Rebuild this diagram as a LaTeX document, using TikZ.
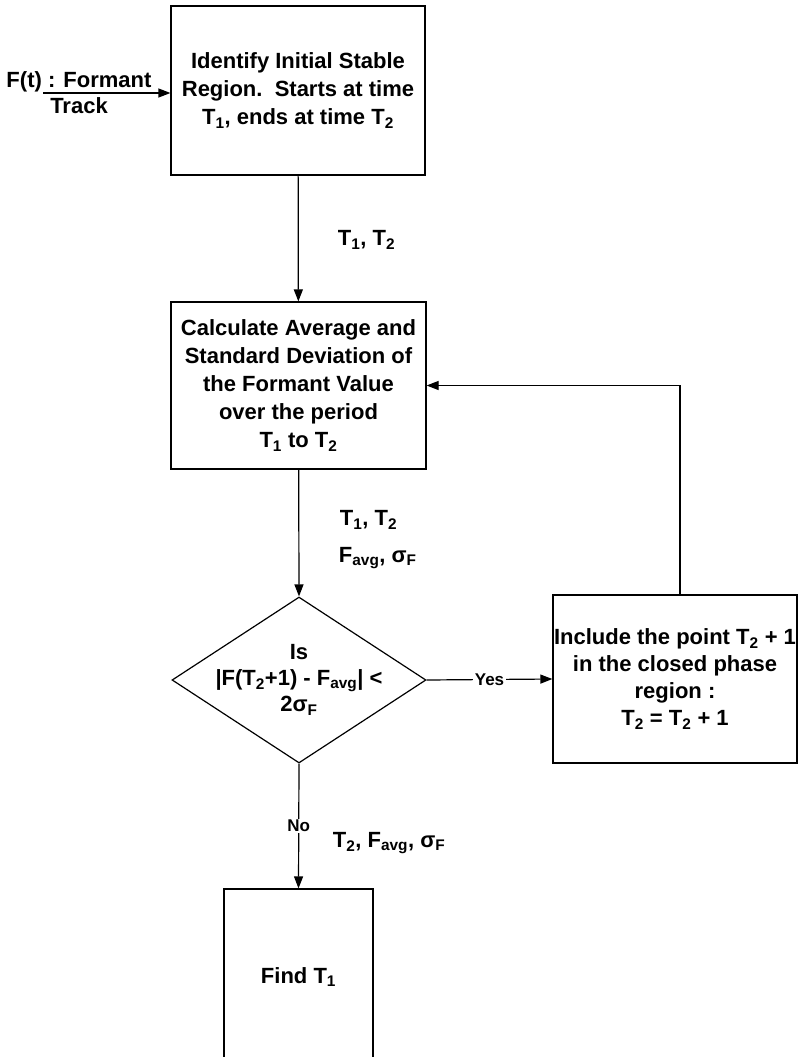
\documentclass[tikz,border=0pt]{standalone}
\usepackage{fontspec}
\setmainfont{Liberation Sans}
\usetikzlibrary{arrows.meta,shapes.geometric}

\newcommand{\sub}[1]{\textsubscript{#1}}

\begin{document}
\begin{tikzpicture}[x=1pt,y=-1pt,line width=1.2pt,
  font=\bfseries\fontsize{22}{28}\selectfont,
  >={Triangle[length=12pt,width=9pt]},
  box/.style={draw,rectangle,align=center,inner sep=0pt},
  decision/.style={draw,diamond,minimum width=254pt,minimum height=166pt,inner sep=0pt},
  lab/.style={fill=white,inner sep=1.5pt,font=\bfseries\fontsize{17}{20}\selectfont}]
\clip (0,0) rectangle (798,1057);
% boxes
\node[box,minimum width=254pt,minimum height=169pt] (ident) at (298,90.5) {Identify Initial Stable\\Region.\ \ Starts at time\\T\sub{1}, ends at time T\sub{2}};
\node[box,minimum width=255pt,minimum height=167pt] (avg) at (298.5,385.5) {Calculate Average and\\Standard Deviation of\\the Formant Value\\over the period\\T\sub{1} to T\sub{2}};
\node[decision] (dec) at (299,680) {};
\node[align=center,font=\bfseries\fontsize{22}{26}\selectfont] (dectext) at (dec.center) {Is\\|F(T\sub{2}+1) - F\sub{avg}| <\\2σ\sub{F}};
\node[box,minimum width=244pt,minimum height=168pt,font=\bfseries\fontsize{22}{27}\selectfont] (incl) at (675,679) {Include the point T\sub{2} + 1\\in the closed phase\\region :\\T\sub{2} = T\sub{2} + 1};
\node[box,minimum width=149pt,minimum height=176pt] (find) at (298.5,977) {Find T\sub{1}};
% input
\node[align=center,font=\bfseries\fontsize{22}{26}\selectfont] (src) at (79,93) {F(t) : Formant\\Track};
\coordinate (srcend) at (43,93);
\draw[->] (srcend) -- (srcend -| ident.west);
% flow
\draw[->] (ident) -- (avg);
\node[anchor=west] (lab1) at (334,240) {T\sub{1}, T\sub{2}};
\draw[->] (avg) -- (dec.north);
\node[anchor=west] (lab2) at (336,520) {T\sub{1}, T\sub{2}};
\node[anchor=west] (lab3) at (335,558) {F\sub{avg}, σ\sub{F}};
\draw[->] (dec.east) -- node[lab] {Yes} (incl.west);
\draw[->] ([xshift=5pt]incl.north) |- (avg.east);
\draw[->] (dec.south) -- node[lab] {No} (find.north);
\node[anchor=west] (lab4) at (329,843) {T\sub{2}, F\sub{avg}, σ\sub{F}};
\end{tikzpicture}
\end{document}
